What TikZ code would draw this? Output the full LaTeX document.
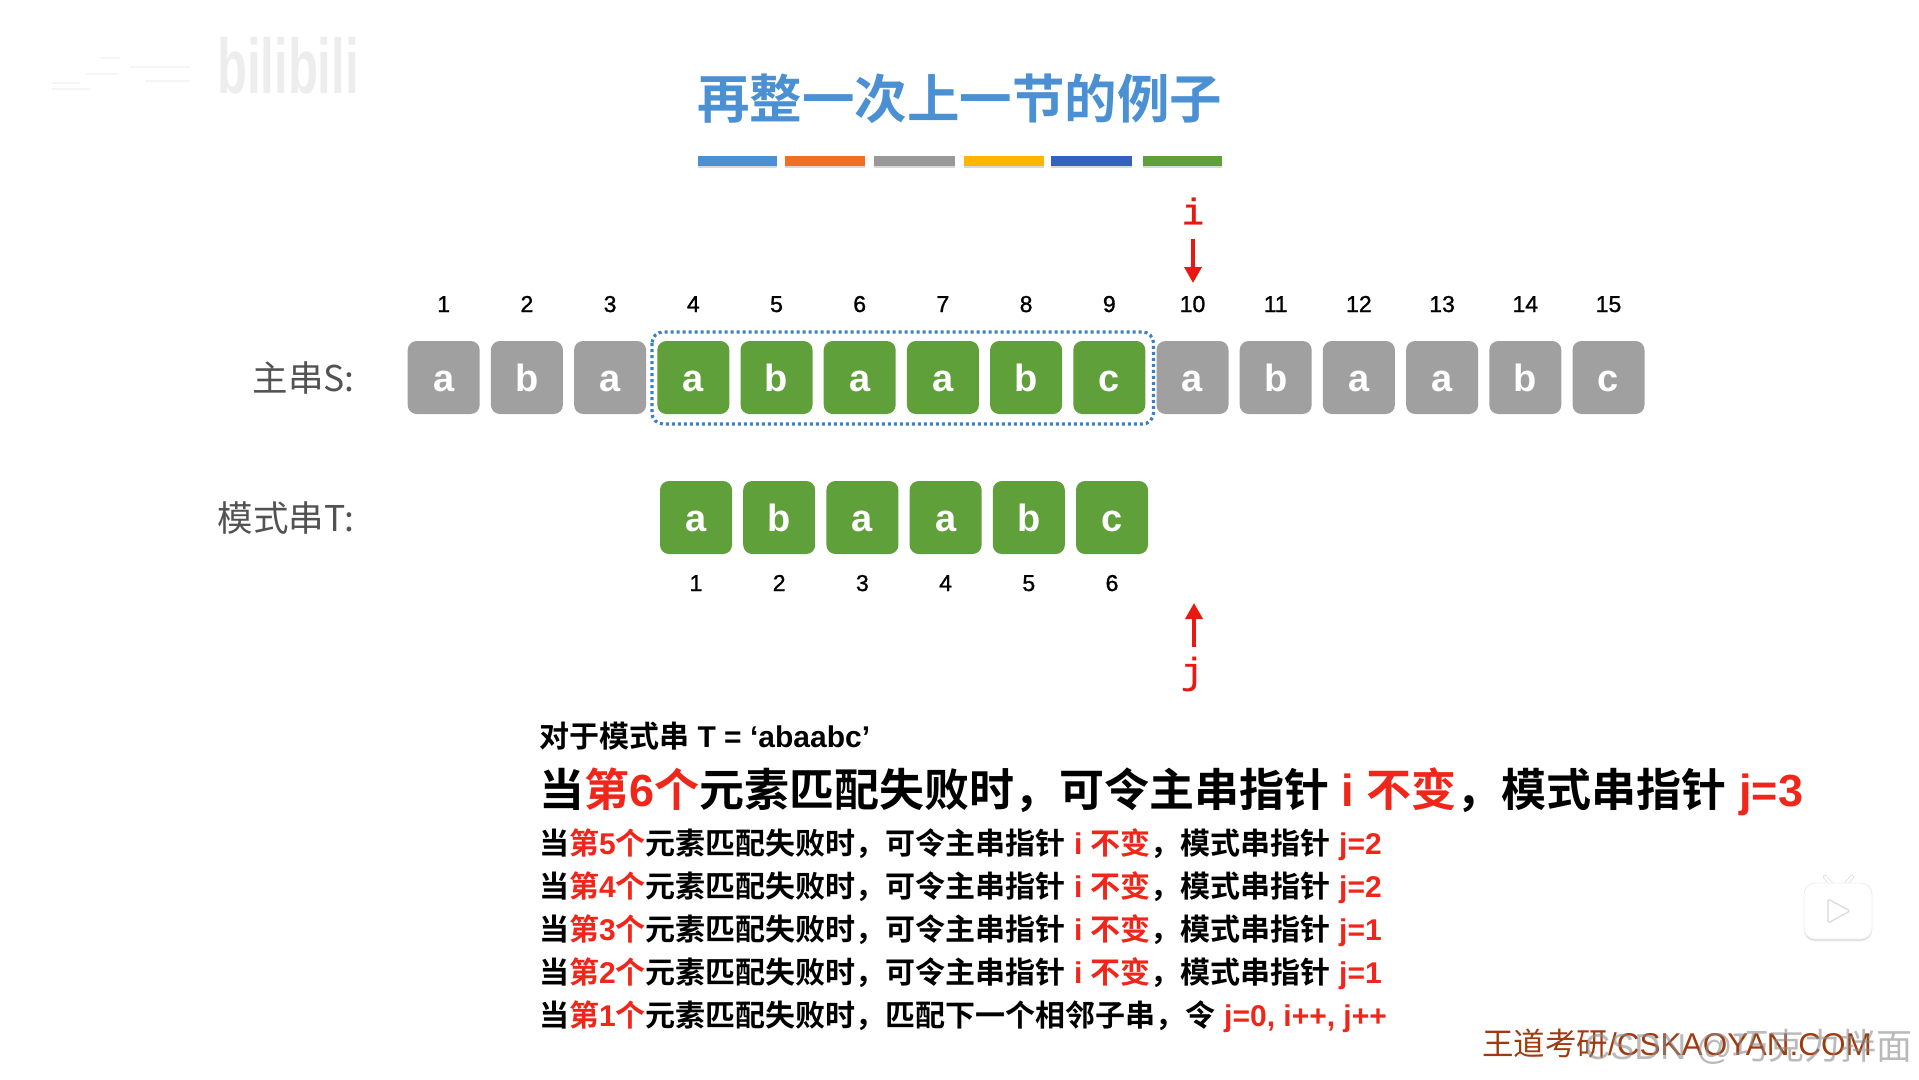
\documentclass[tikz,border=0pt]{standalone}
\usepackage{fontspec}
\usetikzlibrary{arrows.meta}
\setmainfont{Liberation Sans}
\newfontfamily\zhf{Noto Sans CJK SC}[BoldFont={Noto Sans CJK SC Bold}]
\newfontfamily\monof{Liberation Mono}[FakeBold=0.8]
\newfontfamily\digf{Liberation Sans}[FakeBold=1.2]
\definecolor{rd}{HTML}{F0261A}
\definecolor{arrowrd}{HTML}{E8190F}
\definecolor{grn}{HTML}{5FA03A}
\definecolor{gry}{HTML}{A0A0A0}
\definecolor{titleblue}{HTML}{4A90D2}
\definecolor{dotblue}{HTML}{3B7FC4}
\definecolor{barorange}{HTML}{F26F21}
\definecolor{bargray}{HTML}{999999}
\definecolor{baryellow}{HTML}{FFB400}
\definecolor{barblue}{HTML}{3560C0}
\newcommand{\fs}[1]{\fontsize{#1}{#1}\selectfont}
\newcommand{\Zh}[1]{{\zhf\bfseries #1}}
\newcommand{\Rz}[1]{{\color{rd}\zhf\bfseries #1}}
\newcommand{\Rl}[1]{{\color{rd}\bfseries #1}}
\newcommand{\failline}[2]{\Zh{当}\Rz{第}\Rl{#1}\Rz{个}\Zh{元素匹配失败时，可令主串指针} \Rl{i} \Rz{不变}\Zh{，模式串指针} \Rl{j=#2}}
\newcommand{\barseg}[3]{\fill[black!15] (#1,158) rectangle (#2,167.5); \fill[#3] (#1,155.5) rectangle (#2,165.5);}
\tikzset{
  cell/.style={rectangle,rounded corners=9pt,minimum width=72pt,minimum height=73pt,inner sep=0pt,
    text=white,font=\bfseries\fs{38},text height=28pt,text depth=0pt,align=center},
  greencell/.style={cell,fill=grn},
  graycell/.style={cell,fill=gry},
  idx/.style={inner sep=0pt,text=black,font=\digf\fs{23},text height=16pt,text depth=0pt},
  rowlabel/.style={anchor=east,inner sep=0pt,text=black!68,font=\fs{35.5}},
  txt/.style={anchor=west,inner sep=0pt,text=black,font=\bfseries\fs{30}},
  ptr/.style={draw=arrowrd,line width=3.6pt,-{Triangle[length=16pt,width=17pt,fill=arrowrd]}},
  ptrlabel/.style={inner sep=0pt,text=arrowrd,font=\monof\fs{37}}
}
\begin{document}
\begin{tikzpicture}[x=1pt,y=-1pt]
\useasboundingbox (0,0) rectangle (1919,1079);
% watermarks
\node[inner sep=0pt,text=black!7,font=\bfseries\fs{62},xscale=.79,yscale=1.25] (bili) at (288,66) {bilibili};
\foreach \a/\b/\c in {52/80/82,86/118/73,130/190/66,52/90/88,100/120/57,145/190/80}{
  \fill[black!4] (\a,\c) rectangle (\b,\c+1.6);
}
\node[inner sep=0pt,text=titleblue,font=\bfseries\zhf\fs{52.5}] (title) at (959.5,99) {再整一次上一节的例子};
\barseg{698}{777}{titleblue}
\barseg{785}{865}{barorange}
\barseg{874}{955}{bargray}
\barseg{964}{1044}{baryellow}
\barseg{1051}{1132}{barblue}
\barseg{1143}{1222}{grn}
% labels
\node[rowlabel] (slabel) at (355,378) {\zhf 主串S:};
\node[rowlabel] (tlabel) at (355,518) {\zhf 模式串T:};
% main string
\foreach \c [count=\k] in {a,b,a,a,b,a,a,b,c,a,b,a,a,b,c}{
  \pgfmathsetmacro{\xx}{443.7+83.2*(\k-1)}
  \ifnum\k>3 \ifnum\k<10 \def\sty{greencell}\else\def\sty{graycell}\fi\else\def\sty{graycell}\fi
  \node[\sty] (s\k) at (\xx,377.5) {\c};
  \node[idx] (sn\k) at (\xx,304) {\k};
}
% pattern
\foreach \c [count=\k] in {a,b,a,a,b,c}{
  \pgfmathsetmacro{\xx}{696+83.2*(\k-1)}
  \node[greencell] (t\k) at (\xx,517.5) {\c};
  \node[idx] (tn\k) at (\xx,583) {\k};
}
\draw[dotblue,line width=3.2pt,dash pattern=on 3pt off 3pt,rounded corners=11pt] (652,332) rectangle (1153.5,424);
% pointers
\node[ptrlabel] (ilab) at (1193,211) {i};
\coordinate (itail) at (1193,239);
\coordinate (itip) at (1193,283);
\draw[ptr] (itail) -- (itip);
\node[ptrlabel] (jlab) at (1192,674) {j};
\coordinate (jtail) at (1194,647);
\coordinate (jtip) at (1194,603);
\draw[ptr] (jtail) -- (jtip);
% text
\node[txt] (l0) at (539,736) {\Zh{对于模式串} T = ‘abaabc’};
\node[txt,font=\bfseries\fs{45}] (l1) at (539,792) {\failline{6}{3}};
\node[txt] (l2) at (539,845) {\failline{5}{2}};
\node[txt] (l3) at (539,888) {\failline{4}{2}};
\node[txt] (l4) at (539,931) {\failline{3}{1}};
\node[txt] (l5) at (539,974) {\failline{2}{1}};
\node[txt] (l6) at (539,1017) {\Zh{当}\Rz{第}\Rl{1}\Rz{个}\Zh{元素匹配失败时，匹配下一个相邻子串，令} \Rl{j=0, i++, j++}};
% footer
\node[inner sep=0pt,anchor=west,text={rgb,255:red,160;green,58;blue,15},font=\fs{31.5}] (foot) at (1482,1044) {\zhf 王道考研\rmfamily /CSKAOYAN.COM};
\node[inner sep=0pt,anchor=east,text=black!45,opacity=.6,font=\fs{36}] (csdn) at (1913,1047) {CSDN @\zhf 巧克力拌面};
% player icon
\fill[black!12,rounded corners=11pt] (1804,886) rectangle (1872,941);
\draw[black!14,line width=4pt,line cap=round] (1825,877) -- (1833,886) (1852,877) -- (1844,886);
\draw[white,line width=2.6pt,line cap=round] (1825,877) -- (1833,886) (1852,877) -- (1844,886);
\draw[black!7,line width=.8pt,fill=white,rounded corners=11pt] (1804,883) rectangle (1872,939);
\draw[black!15,line width=1.2pt,line join=round,rounded corners=2pt] (1828,899) -- (1850,911) -- (1828,923) -- cycle;
\end{tikzpicture}
\end{document}
